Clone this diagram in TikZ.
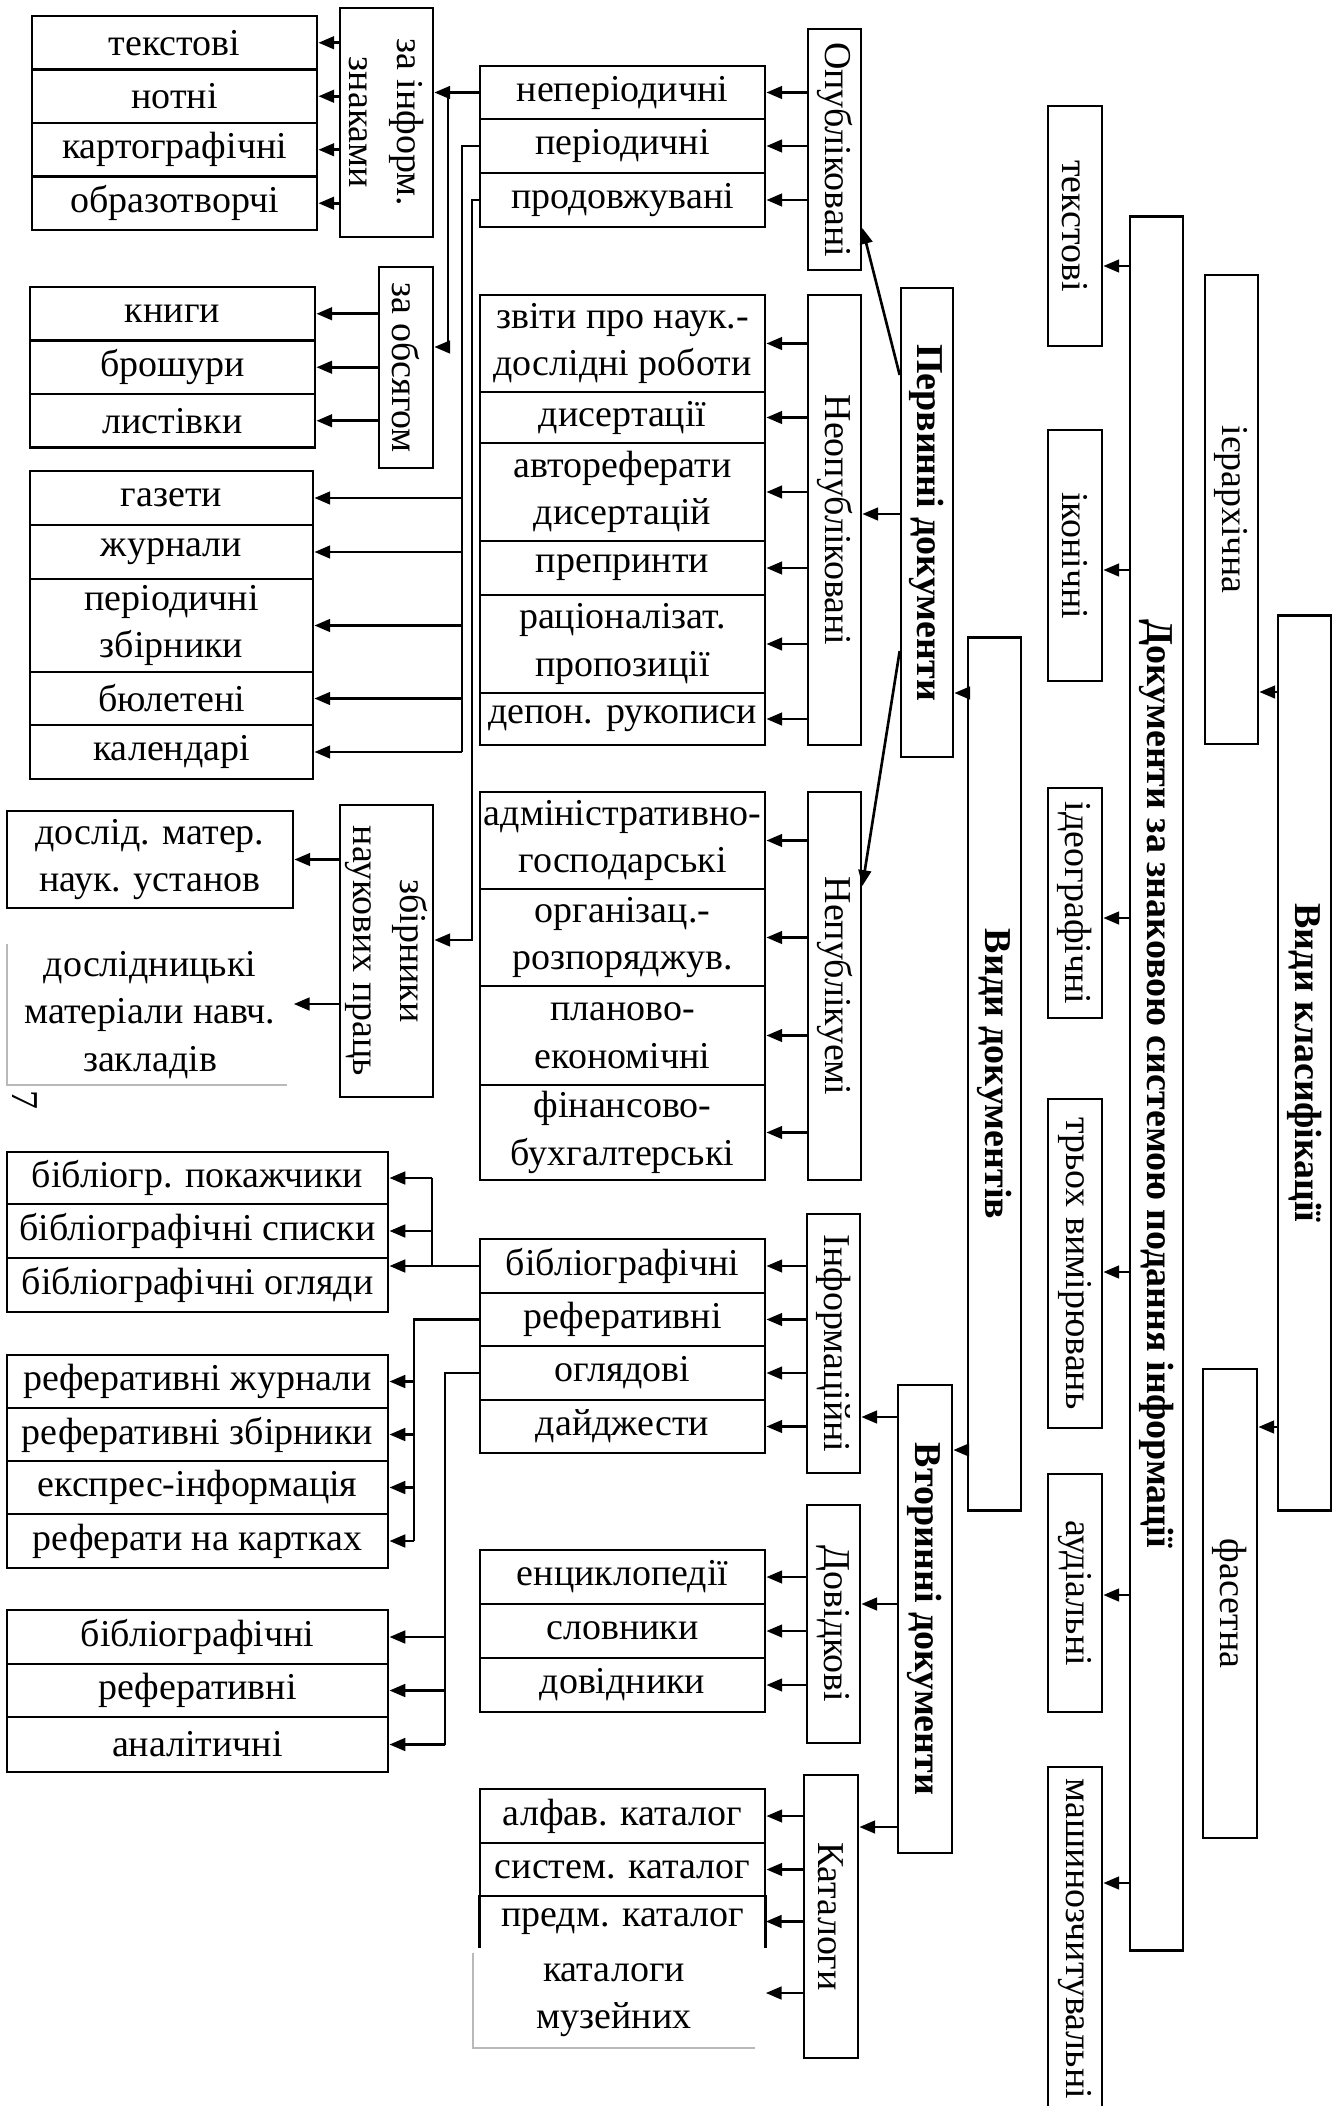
\documentclass[tikz,border=0pt]{standalone}
\usepackage{fontspec}
\setmainfont{Liberation Serif}
\usepackage{tikz}
\usetikzlibrary{arrows.meta,calc}
\newcommand{\cellfont}{\fontsize{10.8}{13.5}\selectfont}

\begin{document}
\begin{tikzpicture}[x=0.01cm,y=-0.01cm,
    cell/.style={draw,line width=0.75pt,inner xsep=0.5pt,inner ysep=1pt,align=center,font=\cellfont},
    hcell/.style 2 args={cell,minimum width=#1,minimum height=#2},
    vcell/.style 2 args={cell,rotate=-90,minimum width=#1,minimum height=#2},
    head/.style={font=\cellfont\bfseries},
    plain/.style={inner sep=1pt,align=center,font=\cellfont},
    link/.style={line width=0.75pt},
    arr/.style={link,-{Triangle[length=4.5pt,width=3.6pt]}},
    faint/.style={gray!55,line width=0.6pt}
  ]
\useasboundingbox (0,0) rectangle (1335,2106);

% left column
\node[hcell={2.85cm}{0.535cm}] (tekstL) at (174.5,42.75) {текстові};
\node[hcell={2.85cm}{0.535cm}] (notni) at (174.5,96.25) {нотні};
\node[hcell={2.85cm}{0.535cm}] (karto) at (174.5,149.75) {картографічні};
\node[hcell={2.85cm}{0.535cm}] (obraz) at (174.5,203.25) {образотворчі};

\node[hcell={2.85cm}{0.535cm}] (knyhy) at (172.5,313.75) {книги};
\node[hcell={2.85cm}{0.535cm}] (broshury) at (172.5,367.25) {брошури};
\node[hcell={2.85cm}{0.535cm}] (lystivky) at (172.5,420.75) {листівки};

\node[hcell={2.83cm}{0.54cm}] (gazety) at (171.5,498) {газети};
\node[hcell={2.83cm}{0.54cm}] (zhurn) at (171.5,552) {журнали};
\node[hcell={2.83cm}{0.93cm}] (perzb) at (171.5,625.5) {періодичні\\збірники};
\node[hcell={2.83cm}{0.53cm}] (biul) at (171.5,698.5) {бюлетені};
\node[hcell={2.83cm}{0.54cm}] (kalend) at (171.5,752) {календарі};

\node[hcell={2.86cm}{0.97cm}] (dosl) at (150,859.5) {дослід. матер.\\наук. установ};
\node[plain,minimum width=2.86cm,minimum height=1.4cm] (doslnavch) at (150,1015) {дослідницькі\\матеріали навч.\\закладів};
\draw[faint] (7,944) -- (7,1085) -- (287,1085);
\node[plain,rotate=-90] (pagenum) at (25,1100) {7};

\node[hcell={3.81cm}{0.52cm}] (bpok) at (197.5,1178) {бібліогр. покажчики};
\node[hcell={3.81cm}{0.54cm}] (bspys) at (197.5,1231) {бібліографічні списки};
\node[hcell={3.81cm}{0.54cm}] (bogl) at (197.5,1285) {бібліографічні огляди};

\node[hcell={3.81cm}{0.53cm}] (rzhur) at (197.5,1381.5) {реферативні журнали};
\node[hcell={3.81cm}{0.53cm}] (rzbir) at (197.5,1434.5) {реферативні збірники};
\node[hcell={3.81cm}{0.53cm}] (ekspr) at (197.5,1487.5) {експрес-інформація};
\node[hcell={3.81cm}{0.54cm}] (rkart) at (197.5,1541) {реферати на картках};

\node[hcell={3.81cm}{0.54cm}] (bibL) at (197.5,1637) {бібліографічні};
\node[hcell={3.81cm}{0.53cm}] (refL) at (197.5,1690.5) {реферативні};
\node[hcell={3.81cm}{0.55cm}] (analit) at (197.5,1744.5) {аналітичні};

\node[vcell={2.29cm}{0.93cm}] (zn) at (386.5,122.5) {за інформ.\\знаками};
\node[vcell={2.01cm}{0.54cm}] (zo) at (406,367.5) {за обсягом};
\node[vcell={2.92cm}{0.93cm}] (zb) at (386.5,951) {збірники\\наукових праць};

% middle column
\node[hcell={2.85cm}{0.53cm}] (neper) at (622.5,92.5) {неперіодичні};
\node[hcell={2.85cm}{0.54cm}] (period) at (622.5,146) {періодичні};
\node[hcell={2.85cm}{0.54cm}] (prodov) at (622.5,200) {продовжувані};

\node[hcell={2.85cm}{0.97cm}] (zvity) at (622.5,343.5) {звіти про наук.-\\дослідні роботи};
\node[hcell={2.85cm}{0.51cm}] (dysert) at (622.5,417.5) {дисертації};
\node[hcell={2.85cm}{0.98cm}] (avtoref) at (622.5,492) {автореферати\\дисертацій};
\node[hcell={2.85cm}{0.54cm}] (preprint) at (622.5,568) {препринти};
\node[hcell={2.85cm}{0.98cm}] (ratsion) at (622.5,644) {раціоналізат.\\пропозиції};
\node[hcell={2.85cm}{0.52cm}] (depon) at (622.5,719) {депон. рукописи};

\node[hcell={2.85cm}{0.97cm}] (admin) at (622.5,840.5) {адміністративно-\\господарські};
\node[hcell={2.85cm}{0.97cm}] (orgaz) at (622.5,937.5) {організац.-\\розпоряджув.};
\node[hcell={2.85cm}{0.99cm}] (planovo) at (622.5,1035.5) {планово-\\економічні};
\node[hcell={2.85cm}{0.95cm}] (finans) at (622.5,1132.5) {фінансово-\\бухгалтерські};

\node[hcell={2.85cm}{0.54cm}] (bibM) at (622.5,1266) {бібліографічні};
\node[hcell={2.85cm}{0.53cm}] (refM) at (622.5,1319.5) {реферативні};
\node[hcell={2.85cm}{0.54cm}] (oglM) at (622.5,1373) {оглядові};
\node[hcell={2.85cm}{0.53cm}] (daydzh) at (622.5,1426.5) {дайджести};

\node[hcell={2.85cm}{0.54cm}] (entsykl) at (622.5,1577) {енциклопедії};
\node[hcell={2.85cm}{0.54cm}] (slovn) at (622.5,1631) {словники};
\node[hcell={2.85cm}{0.54cm}] (dovidn) at (622.5,1685) {довідники};

\node[hcell={2.85cm}{0.54cm}] (alfav) at (622.5,1816) {алфав. каталог};
\node[hcell={2.85cm}{0.53cm}] (system) at (622.5,1869.5) {систем. каталог};
\node[plain,minimum width=2.85cm,minimum height=0.51cm] (predm) at (622.5,1921.5) {предм. каталог};
\draw[link] (predm.north west) -- (predm.south west) (predm.north east) -- (predm.south east);
\node[plain] (muzei) at (614,2000) {каталоги\\музейних};
\draw[faint] (473,1953) -- (473,2048) -- (755,2048);

\node[vcell={2.41cm}{0.53cm}] (opubl) at (834.5,149.5) {Опубліковані};
\node[vcell={4.50cm}{0.53cm}] (neopubl) at (834.5,520) {Неопубліковані};
\node[vcell={3.88cm}{0.53cm}] (nepubl) at (834.5,986) {Непублікуемі};
\node[vcell={2.59cm}{0.53cm}] (inform) at (833.5,1343.5) {Інформаційні};
\node[vcell={2.38cm}{0.53cm}] (dovidk) at (833.5,1624) {Довідкові};
\node[vcell={2.83cm}{0.54cm}] (katal) at (831,1916.5) {Каталоги};

\node[vcell={4.69cm}{0.52cm},head] (perv) at (927,522.5) {Первинні документи};
\node[vcell={4.68cm}{0.54cm},head] (vtor) at (925,1619) {Вторинні документи};
\node[vcell={8.72cm}{0.53cm},head] (vydyd) at (994.5,1074) {Види документів};

% right part
\node[vcell={2.40cm}{0.54cm}] (tekstR) at (1075,226) {текстові};
\node[vcell={2.51cm}{0.54cm}] (ikon) at (1075,555.5) {іконічні};
\node[vcell={2.30cm}{0.54cm}] (ideo) at (1075,903) {ідеографічні};
\node[vcell={3.29cm}{0.54cm}] (tryoh) at (1075,1263.5) {трьох вимірювань};
\node[vcell={2.38cm}{0.54cm}] (audio) at (1075,1593) {аудіальні};
\node[vcell={3.44cm}{0.54cm}] (mashyn) at (1075,1939) {машинозчитувальні};
\node[vcell={17.33cm}{0.53cm},head] (dzs) at (1156.5,1083.5) {Документи за знаковою системою подання інформації};
\node[vcell={4.69cm}{0.53cm}] (ierarh) at (1231.5,509.5) {ієрархічна};
\node[vcell={4.69cm}{0.54cm}] (faset) at (1230,1603.5) {фасетна};
\node[vcell={8.94cm}{0.53cm},head] (vykl) at (1304.5,1063) {Види класифікації};

% connectors
\draw[arr] (vykl.south |- 0,692) -- (ierarh.north |- 0,692);
\draw[arr] (vykl.south |- 0,1427) -- (faset.north |- 0,1427);
\draw[arr] (dzs.south |- 0,266) -- (tekstR.north |- 0,266);
\draw[arr] (dzs.south |- 0,570) -- (ikon.north |- 0,570);
\draw[arr] (dzs.south |- 0,918) -- (ideo.north |- 0,918);
\draw[arr] (dzs.south |- 0,1272) -- (tryoh.north |- 0,1272);
\draw[arr] (dzs.south |- 0,1595) -- (audio.north |- 0,1595);
\draw[arr] (dzs.south |- 0,1883) -- (mashyn.north |- 0,1883);

\draw[arr] (vydyd.south |- 0,693) -- (perv.north |- 0,693);
\draw[arr] (vydyd.south |- 0,1450) -- (vtor.north |- 0,1450);
\draw[arr] (perv.south |- 0,375) -- (opubl.north |- 0,228);
\draw[arr] (perv.south |- 0,514) -- (neopubl.north |- 0,514);
\draw[arr] (perv.south |- 0,651) -- (nepubl.north |- 0,886);
\draw[arr] (vtor.south |- 0,1417) -- (inform.north |- 0,1417);
\draw[arr] (vtor.south |- 0,1604) -- (dovidk.north |- 0,1604);
\draw[arr] (vtor.south |- 0,1827) -- (katal.north |- 0,1827);

\foreach \n in {neper,period,prodov}
  \draw[arr] (opubl.south |- \n.east) -- (\n.east);
\foreach \n in {zvity,dysert,avtoref,preprint,ratsion,depon}
  \draw[arr] (neopubl.south |- \n.east) -- (\n.east);
\foreach \n in {admin,orgaz,planovo,finans}
  \draw[arr] (nepubl.south |- \n.east) -- (\n.east);
\foreach \n in {bibM,refM,oglM,daydzh}
  \draw[arr] (inform.south |- \n.east) -- (\n.east);
\foreach \n in {entsykl,slovn,dovidn}
  \draw[arr] (dovidk.south |- \n.east) -- (\n.east);
\foreach \n in {alfav,system,predm}
  \draw[arr] (katal.south |- \n.east) -- (\n.east);
\draw[arr] (katal.south |- 0,1993) -- (predm.east |- 0,1993);

\draw[arr] (neper.west) -- (zn.north |- neper.west);
\draw[arr] (neper.west -| 448,0) |- (zo.north |- 0,347);
\draw[link] (period.west) -| (462,0 |- kalend.east);
\foreach \n in {gazety,zhurn,perzb,biul,kalend}
  \draw[arr] (462,0 |- \n.east) -- (\n.east);
\draw[arr] (prodov.west) -| (472,940) -- (zb.north |- 0,940);

\foreach \n in {tekstL,notni,karto,obraz}
  \draw[arr] (zn.south |- \n.east) -- (\n.east);
\foreach \n in {knyhy,broshury,lystivky}
  \draw[arr] (zo.south |- \n.east) -- (\n.east);
\draw[arr] (zb.south |- dosl.east) -- (dosl.east);
\draw[arr] (zb.south |- 0,1004) -- (doslnavch.east |- 0,1004);

\draw[arr] (bibM.west) -- (bogl.east |- bibM.west);
\draw[link] (432,0 |- bibM.west) -- (432,0 |- bpok.east);
\foreach \n in {bpok,bspys}
  \draw[arr] (432,0 |- \n.east) -- (\n.east);
\draw[link] (refM.west) -| (414,0 |- rkart.east);
\foreach \n in {rzhur,rzbir,ekspr,rkart}
  \draw[arr] (414,0 |- \n.east) -- (\n.east);
\draw[link] (oglM.west) -| (445,0 |- analit.east);
\foreach \n in {bibL,refL,analit}
  \draw[arr] (445,0 |- \n.east) -- (\n.east);
\end{tikzpicture}
\end{document}
